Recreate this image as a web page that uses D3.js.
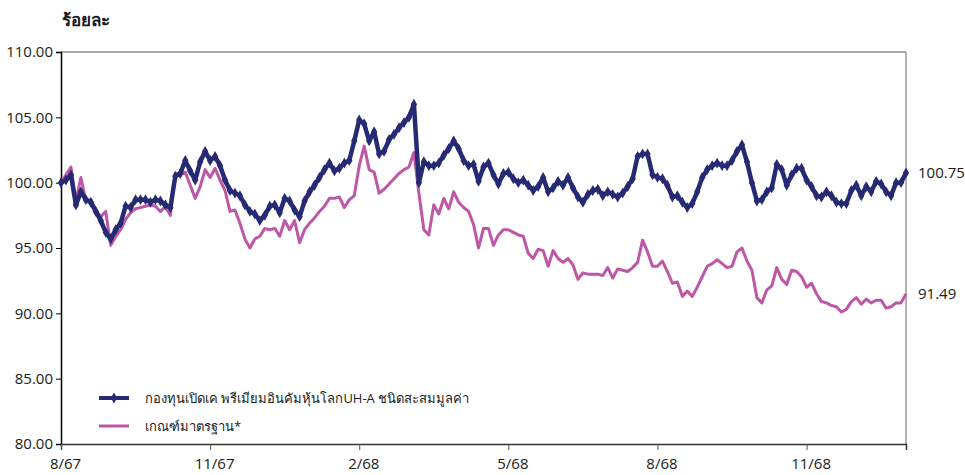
<!DOCTYPE html>
<html><head><meta charset="utf-8">
<script src="https://cdn.jsdelivr.net/npm/d3@7"></script>
<style>body{margin:0;background:#fff}svg{display:block}text{font-family:"Open Sans","Noto Sans",sans-serif}</style>
</head><body><svg id="c" width="965" height="475"></svg>
<script>
const fundName = "กองทุนเปิดเค พรีเมียมอินคัมหุ้นโลกUH-A ชนิดสะสมมูลค่า";
const benchName = "เกณฑ์มาตรฐาน*";
const yTitle = "ร้อยละ";
const xTickLabels = ["8/67","11/67","2/68","5/68","8/68","11/68"];
const xTickIndex = [0,30,60,90,120,150];
const yTicks = [80,85,90,95,100,105,110];
const fund = [
100.0,100.2,100.6,98.3,99.3,98.7,98.5,97.8,97.1,96.2,
95.7,96.4,96.9,98.2,98.1,98.7,98.7,98.7,98.5,98.7,
98.6,98.3,98.1,100.5,100.7,101.7,100.9,100.2,101.6,102.4,
101.7,102.0,101.3,100.2,99.4,99.2,99.0,98.3,97.8,97.6,
97.1,97.5,98.2,98.3,97.7,98.8,98.6,97.9,97.4,98.6,
99.3,99.8,100.4,101.0,101.5,100.9,101.1,101.5,101.7,103.2,
104.8,104.5,103.2,103.9,102.2,102.4,103.3,103.7,104.2,104.6,
105.0,106.0,100.0,101.6,101.3,101.3,101.5,102.1,102.6,103.2,
102.6,101.7,101.3,101.4,100.1,101.2,101.5,100.6,99.9,100.7,
100.8,100.3,100.0,100.2,99.8,99.4,99.7,100.4,99.3,99.6,
100.1,99.8,100.4,99.6,98.9,98.5,99.1,99.4,99.5,99.0,
99.3,99.1,98.9,99.2,99.7,100.3,102.0,102.2,102.2,100.6,
100.4,100.3,99.8,98.9,99.0,98.5,98.1,98.4,99.3,100.4,
101.0,101.3,101.5,101.3,101.3,101.7,102.4,102.9,101.6,100.0,
98.6,98.7,99.3,99.6,101.4,101.0,99.8,100.6,101.1,101.1,
100.2,99.7,99.0,98.9,99.3,99.0,98.5,98.4,98.4,99.4,
99.8,99.0,99.7,99.3,100.1,99.9,99.3,99.0,100.0,100.0,
100.75];
const bench = [
100.0,100.6,101.2,98.6,100.4,98.6,98.7,97.9,97.4,97.8,
95.2,95.9,96.4,97.2,97.7,98.0,98.1,98.2,98.3,98.2,
97.8,98.2,97.5,100.7,100.7,100.8,99.8,98.8,99.7,101.0,
100.4,101.1,100.2,99.4,97.8,97.9,96.9,95.7,95.0,95.7,
95.9,96.5,96.4,96.5,95.9,97.1,96.4,97.1,95.4,96.4,
96.9,97.3,97.8,98.2,98.8,98.8,98.9,98.1,98.7,99.0,
101.3,102.8,101.0,100.8,99.2,99.5,99.9,100.3,100.7,101.0,
101.2,102.3,99.2,96.4,96.0,98.3,97.6,98.8,98.0,99.3,
98.5,98.1,97.8,96.8,95.0,96.5,96.5,95.2,96.0,96.4,
96.4,96.2,96.0,95.9,94.6,94.2,94.9,94.8,93.6,94.8,
94.2,93.9,94.2,93.7,92.6,93.1,93.0,93.0,93.0,92.9,
93.5,92.7,93.4,93.3,93.2,93.5,93.9,95.6,94.7,93.6,
93.6,94.0,93.2,92.3,92.4,91.3,91.7,91.3,92.0,92.8,
93.6,93.8,94.1,93.8,93.5,93.6,94.7,95.0,94.0,93.3,
91.2,90.8,91.8,92.1,93.5,92.6,92.2,93.3,93.2,92.8,
92.0,92.3,91.5,90.9,90.8,90.6,90.5,90.1,90.3,90.9,
91.2,90.7,91.1,90.8,91.0,91.0,90.4,90.5,90.8,90.8,
91.49];

const navy = "#262a73", mag = "#bd57a6";
const svg = d3.select("#c");
const L = 61, R = 906, T = 52, B = 444;
const x = d3.scaleLinear().domain([0, fund.length - 1]).range([L, R]);
const y = d3.scaleLinear().domain([80, 110]).range([B, T]);

// frame top & right
svg.append("line").attr("x1", L).attr("x2", R).attr("y1", T).attr("y2", T).attr("stroke", "#8c8c8c").attr("stroke-width", 1.5);
svg.append("line").attr("x1", R).attr("x2", R).attr("y1", T).attr("y2", B).attr("stroke", "#9a9a9a").attr("stroke-width", 1.5);

// y axis
const ya = svg.append("g").attr("transform", `translate(${L},0)`)
  .call(d3.axisLeft(y).tickValues(yTicks).tickFormat(d3.format(".2f")).tickSize(5).tickPadding(3));
ya.select(".domain").attr("stroke", "#000").attr("stroke-width", 1.5);
ya.selectAll(".tick line").attr("stroke", "#000");
ya.selectAll("text").attr("font-size", 15).attr("fill", "#1a1a1a");

// x axis
const xa = svg.append("g").attr("transform", `translate(0,${B})`)
  .call(d3.axisBottom(x).tickValues(xTickIndex).tickFormat((d, i) => xTickLabels[i]).tickSize(6).tickPadding(8));
xa.select(".domain").attr("stroke", "#333").attr("stroke-width", 1.5);
xa.selectAll(".tick line").attr("stroke", "#555");
xa.selectAll("text").attr("font-size", 15).attr("fill", "#1a1a1a").attr("dx", 4);

// y title
svg.append("text").attr("x", 62).attr("y", 26).attr("font-size", 17).attr("font-weight", "bold").attr("fill", "#1a1a1a").text(yTitle);

// benchmark line
const line = d3.line().x((d, i) => x(i)).y(d => y(d));
svg.append("path").datum(bench).attr("d", line).attr("fill", "none").attr("stroke", mag).attr("stroke-width", 3).attr("stroke-linejoin", "round");

// fund line
svg.append("path").datum(fund).attr("d", line).attr("fill", "none").attr("stroke", navy).attr("stroke-width", 4.5).attr("stroke-linejoin", "round");
const diamond = d3.symbol().type(d3.symbolDiamond).size(34);
svg.append("g").selectAll("path").data(fund).join("path")
  .attr("d", diamond).attr("transform", (d, i) => `translate(${x(i)},${y(d)})`).attr("fill", navy);

// end labels
svg.append("text").attr("x", 918).attr("y", y(fund[fund.length - 1])).attr("dy", "0.35em").attr("font-size", 15).attr("fill", "#1a1a1a").text(fund[fund.length - 1].toFixed(2));
svg.append("text").attr("x", 918).attr("y", y(bench[bench.length - 1])).attr("dy", "0.35em").attr("font-size", 15).attr("fill", "#1a1a1a").text(bench[bench.length - 1].toFixed(2));

// legend
const lg = svg.append("g");
lg.append("line").attr("x1", 99).attr("x2", 129).attr("y1", 398).attr("y2", 398).attr("stroke", navy).attr("stroke-width", 4);
lg.append("path").attr("d", diamond).attr("transform", "translate(114,398)").attr("fill", navy);
lg.append("text").attr("x", 145).attr("y", 398).attr("dy", "0.35em").attr("font-size", 13).attr("fill", "#1a1a1a").text(fundName);
lg.append("line").attr("x1", 99).attr("x2", 129).attr("y1", 426).attr("y2", 426).attr("stroke", mag).attr("stroke-width", 3);
lg.append("text").attr("x", 145).attr("y", 426).attr("dy", "0.35em").attr("font-size", 13).attr("fill", "#1a1a1a").text(benchName);
</script></body></html>
